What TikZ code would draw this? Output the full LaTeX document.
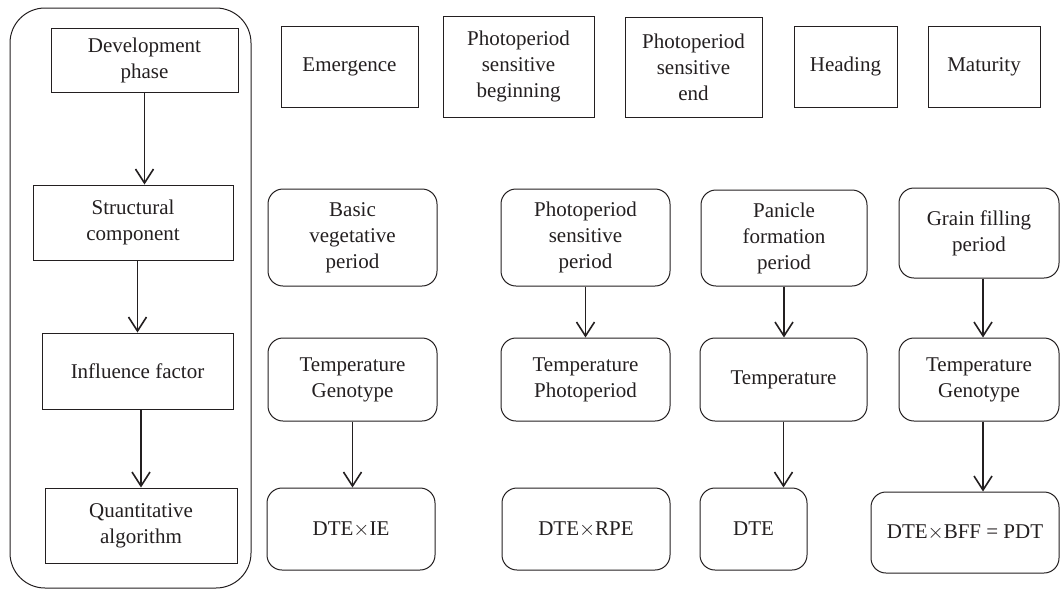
\documentclass[tikz,border=0pt]{standalone}
\usepackage{fontspec}
\setmainfont{Liberation Serif}
\usetikzlibrary{arrows.meta}
\definecolor{ink}{HTML}{231F20}
\tikzset{
  box/.style={draw=ink, line width=1pt, text=ink, align=center, inner sep=0pt,
    font=\fontsize{21}{26}\selectfont},
  rbox/.style={box, rounded corners=15pt},
  arr/.style={draw=ink, line width=1.6pt, -{Straight Barb[length=14pt,width=18pt,line width=1.6pt]}},
}
\begin{document}
\begin{tikzpicture}[x=1pt,y=-1pt]
\useasboundingbox (0,0) rectangle (1060,590);
% left frame
\node[draw=ink, line width=1pt, rounded corners=35pt, minimum width=241pt, minimum height=580pt, inner sep=0pt] (frame) at (130.5,298) {};
\node[box, minimum width=187pt, minimum height=64pt] (dev) at (144.5,60) {Development\\phase};
\node[box, minimum width=200pt, minimum height=75pt] (struct) at (133,222.5) {Structural\\component};
\node[box, minimum width=191pt, minimum height=76pt] (infl) at (137.5,371) {Influence factor};
\node[box, minimum width=192pt, minimum height=75pt] (quant) at (141,525.5) {Quantitative\\algorithm};
\draw[arr] (dev.south) -- (dev.south |- struct.north);
\draw[arr] (infl.north |- struct.south) -- (infl.north);
\draw[arr] (quant.north |- infl.south) -- (quant.north);
% top row
\node[box, minimum width=137pt, minimum height=81pt] (emer) at (349.5,66.5) {Emergence};
\node[box, minimum width=151pt, minimum height=101pt] (psb) at (518.5,66.5) {Photoperiod\\sensitive\\beginning};
\node[box, minimum width=137pt, minimum height=100pt] (pse) at (693.5,67) {Photoperiod\\sensitive\\end};
\node[box, minimum width=103pt, minimum height=81pt] (head) at (845.5,66.5) {Heading};
\node[box, minimum width=112pt, minimum height=81pt] (mat) at (984,66.5) {Maturity};
% row A
\node[rbox, minimum width=169pt, minimum height=97pt] (bvp) at (352.5,237.5) {Basic\\vegetative\\period};
\node[rbox, minimum width=169pt, minimum height=97pt] (psp) at (585.5,237.5) {Photoperiod\\sensitive\\period};
\node[rbox, minimum width=166pt, minimum height=96pt] (pfp) at (784,238) {Panicle\\formation\\period};
\node[rbox, minimum width=160pt, minimum height=90pt] (gfp) at (979,233) {Grain filling\\period};
% row B
\node[rbox, minimum width=169pt, minimum height=83pt] (tg1) at (352.5,379.5) {Temperature\\Genotype};
\node[rbox, minimum width=169pt, minimum height=83pt] (tp) at (585.5,379.5) {Temperature\\Photoperiod};
\node[rbox, minimum width=167pt, minimum height=83pt] (tt) at (783.5,379.5) {Temperature};
\node[rbox, minimum width=160pt, minimum height=83pt] (tg2) at (979,379.5) {Temperature\\Genotype};
% row C
\node[rbox, minimum width=168pt, minimum height=82pt] (r1) at (351,529) {DTE$\times$IE};
\node[rbox, minimum width=168pt, minimum height=82pt] (r2) at (586,529) {DTE$\times$RPE};
\node[rbox, minimum width=107pt, minimum height=82pt] (r3) at (753.5,529) {DTE};
\node[rbox, minimum width=188pt, minimum height=81pt] (r4) at (965,532.5) {DTE$\times$BFF = PDT};
% arrows
\draw[arr] (psp.south) -- (psp.south |- tp.north);
\draw[arr] (pfp.south) -- (pfp.south |- tt.north);
\draw[arr] (tt.south) -- (tt.south |- r3.north);
\draw[arr] (tg1.south) -- (tg1.south |- r1.north);
\coordinate (g1) at ([xshift=4pt]gfp.south);
\coordinate (g2) at ([xshift=4pt]tg2.south);
\draw[arr] (g1) -- (g1 |- tg2.north);
\draw[arr] (g2) -- (g2 |- r4.north);
\end{tikzpicture}
\end{document}
